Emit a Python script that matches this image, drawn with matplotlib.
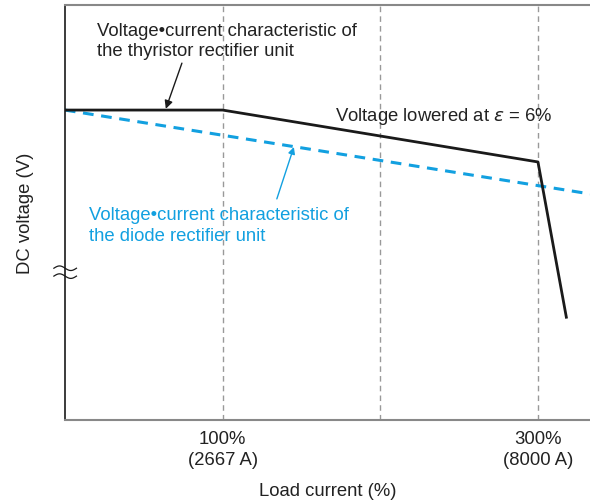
import matplotlib.pyplot as plt
import numpy as np

plt.rcParams['font.family'] = ['Liberation Sans', 'DejaVu Sans']

# load current (%) vs DC voltage (arbitrary units, axis 0..100)
thyristor_x = [0, 100, 300, 318]
thyristor_y = [74.7, 74.7, 62.2, 24.8]
diode_x = [0, 333]
diode_y = [74.7, 54.5]
grid_x = [100, 200, 300]
tick_x = [100, 300]
tick_labels = ['100%\n(2667 A)', '300%\n(8000 A)']

blue = '#12a0e0'
dark = '#222222'
fs = 13.3

fig = plt.figure(figsize=(5.9, 5.02), dpi=100)
ax = fig.add_axes([0.110, 0.161, 0.890, 0.827])
ax.set_xlim(0, 333)
ax.set_ylim(0, 100)

for gx in grid_x:
    ax.axvline(gx, color='#999999', lw=1, ls=(0, (4, 3)), zorder=1)

ax.plot(diode_x, diode_y, color=blue, lw=2.2, ls=(0, (3.5, 2.5)), zorder=2)
ax.plot(thyristor_x, thyristor_y, color='#1a1a1a', lw=2, zorder=3)

ax.spines['right'].set_visible(False)
ax.spines['top'].set_color('#888888')
ax.spines['bottom'].set_color('#888888')
ax.spines['left'].set_color('#1a1a1a')
ax.spines['top'].set_linewidth(1.5)
ax.spines['bottom'].set_linewidth(1.5)
ax.spines['left'].set_linewidth(1.2)

ax.set_yticks([])
ax.set_xticks(tick_x)
ax.set_xticklabels(tick_labels, fontsize=fs, color=dark, linespacing=1.3)
ax.tick_params(axis='x', length=0, pad=7)
ax.set_xlabel('Load current (%)', fontsize=fs, color=dark, labelpad=10)
ax.set_ylabel('DC voltage (V)', fontsize=fs, color=dark, labelpad=22)

# axis break marks
t = np.linspace(0, 1, 40)
for yb in [36.6, 34.7]:
    xs = -0.021 + 0.043 * t
    ys = yb + 0.55 * np.sin(2 * np.pi * t)
    ax.plot(xs, ys, color='#1a1a1a', lw=0.9, transform=ax.get_yaxis_transform(),
            clip_on=False, zorder=5)

# annotations
ax.text(20.3, 91.4, 'Voltage\u2022current characteristic of\nthe thyristor rectifier unit',
        fontsize=fs, color=dark, va='center', ha='left', linespacing=1.25)
ax.annotate('', xy=(64, 75.0), xytext=(74.2, 86.0),
            arrowprops=dict(arrowstyle='-|>', color='#1a1a1a', lw=1,
                            mutation_scale=12, shrinkA=0, shrinkB=0))
ax.text(171, 73.5, 'Voltage lowered at $\\varepsilon$ = 6%', fontsize=fs,
        color=dark, va='center', ha='left')
ax.text(15.2, 47.0, 'Voltage\u2022current characteristic of\nthe diode rectifier unit',
        fontsize=fs, color=blue, va='center', ha='left', linespacing=1.25)
ax.annotate('', xy=(145.2, 65.8), xytext=(134.4, 53.3),
            arrowprops=dict(arrowstyle='-|>', color=blue, lw=1,
                            mutation_scale=10, shrinkA=0, shrinkB=0))

fig.savefig('out.png', dpi=100)
